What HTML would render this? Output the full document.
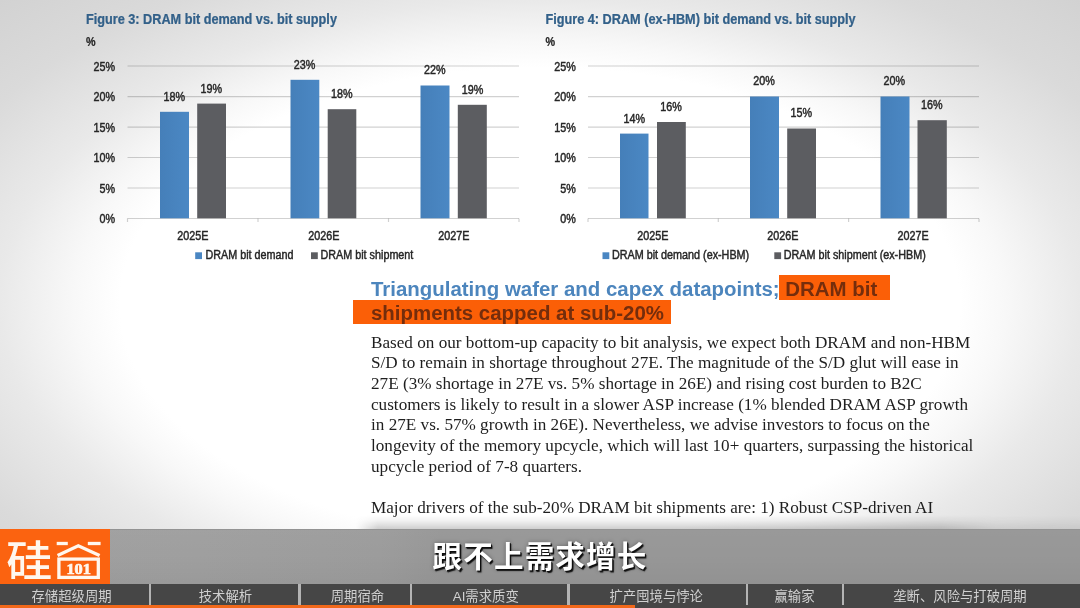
<!DOCTYPE html>
<html lang="zh-CN">
<head>
<meta charset="utf-8">
<title>硅谷101 - 存储超级周期</title>
<style>
html,body{margin:0;padding:0;}
body{width:1080px;height:608px;overflow:hidden;position:relative;background:#fff;font-family:"Liberation Sans","Noto Sans CJK SC",sans-serif;}
#bg{position:absolute;left:0;top:0;width:1080px;height:608px;
background:radial-gradient(ellipse farthest-corner at 50% 50%, #fff 0%, #fff 55%, #f8f8f8 61%, #e9e9e9 70.7%, #dadada 85%, #d2d2d2 100%);}
#docsh{position:absolute;left:356px;top:515px;width:724px;height:14px;background:linear-gradient(to bottom, rgba(0,0,0,0), rgba(0,0,0,.05) 40%, rgba(0,0,0,.19));-webkit-mask-image:linear-gradient(to right, transparent 0, #000 22px, #000 585px, rgba(0,0,0,.45) 640px, rgba(0,0,0,.35) 724px);mask-image:linear-gradient(to right, transparent 0, #000 22px, #000 585px, rgba(0,0,0,.45) 640px, rgba(0,0,0,.35) 724px);}
svg text{font-family:"Liberation Sans",sans-serif;}
#charts{position:absolute;left:0;top:0;filter:blur(.5px);}
.hl{position:absolute;background:#fb5f07;}
.hd{position:absolute;left:371.2px;font:bold 20px/24px "Liberation Sans",sans-serif;white-space:nowrap;transform-origin:0 0;transform:scaleX(1.0215);color:#4c85bd;filter:blur(.5px);}
.hd .dk{color:#742d0c;}
#bodytx{position:absolute;left:371px;top:332.6px;font:16.4px/20.66px "Liberation Serif",serif;color:#1e1e1e;transform-origin:0 0;transform:scaleX(1.0465);white-space:nowrap;filter:blur(.45px);}
.ln{height:20.66px;}
#band{position:absolute;left:0;top:529px;width:1080px;height:55px;background:linear-gradient(to bottom,rgba(255,255,255,.02) 0,rgba(0,0,0,0) 45%,rgba(0,0,0,.035) 100%),linear-gradient(to right,#a0a0a0 0,#9f9f9f 200px,#9c9c9c 380px,#979797 440px,#979797 100%);border-top:1px solid #939393;box-sizing:border-box;}
#logo{position:absolute;left:0;top:529px;width:110.4px;height:55px;background:#fb6310;}
#sub{position:absolute;left:0;top:529px;width:1080px;height:55px;text-align:center;font:bold 29.6px/55px "Liberation Sans","Noto Sans CJK SC",sans-serif;letter-spacing:1.1px;color:#fff;text-shadow:1.6px 1.6px 1px rgba(10,10,10,.9),1px 1px 0 rgba(20,20,20,.9),0 0 4px rgba(0,0,0,.35);}
#navbar{position:absolute;left:0;top:584px;width:1080px;height:21px;background:#464646;}
.nv{position:absolute;top:1.6px;height:21px;font:400 13.35px/21px "Liberation Sans","Noto Sans CJK SC",sans-serif;color:#d0d0d0;white-space:nowrap;filter:blur(.3px);}
.dv{position:absolute;top:0;width:2.4px;height:21.5px;background:#b4b4b4;}
#prog{position:absolute;left:0;top:605px;width:1080px;height:3px;background:#464646;}
#prog div{width:635px;height:3px;background:#f2681a;}
</style>
</head>
<body>
<div id="bg"></div>
<svg id="charts" width="1080" height="275" viewBox="0 0 1080 275">
<defs>
<linearGradient id="gb" x1="0" x2="1" y1="0" y2="0"><stop offset="0" stop-color="#457fb9"/><stop offset="1" stop-color="#4b88c4"/></linearGradient>
</defs>
<text transform="translate(86,23.8) scale(0.882,1)" text-anchor="start" font-size="14.4" font-weight="bold" fill="#326089" stroke="#326089" stroke-width="0.25">Figure 3: DRAM bit demand vs. bit supply</text>
<text transform="translate(86,45.9) scale(0.885,1)" text-anchor="start" font-size="12.2" font-weight="bold" fill="#262626" stroke="#262626" stroke-width="0.25">%</text>
<line x1="127.5" x2="519" y1="66" y2="66" stroke="#000" stroke-opacity=".18" stroke-width="1.2"/>
<text transform="translate(115.2,70.5) scale(0.885,1)" text-anchor="end" font-size="12.2" font-weight="normal" fill="#262626" stroke="#262626" stroke-width="0.45">25%</text>
<line x1="127.5" x2="519" y1="96.6" y2="96.6" stroke="#000" stroke-opacity=".18" stroke-width="1.2"/>
<text transform="translate(115.2,101.1) scale(0.885,1)" text-anchor="end" font-size="12.2" font-weight="normal" fill="#262626" stroke="#262626" stroke-width="0.45">20%</text>
<line x1="127.5" x2="519" y1="127.1" y2="127.1" stroke="#000" stroke-opacity=".18" stroke-width="1.2"/>
<text transform="translate(115.2,131.6) scale(0.885,1)" text-anchor="end" font-size="12.2" font-weight="normal" fill="#262626" stroke="#262626" stroke-width="0.45">15%</text>
<line x1="127.5" x2="519" y1="157.5" y2="157.5" stroke="#000" stroke-opacity=".18" stroke-width="1.2"/>
<text transform="translate(115.2,162.0) scale(0.885,1)" text-anchor="end" font-size="12.2" font-weight="normal" fill="#262626" stroke="#262626" stroke-width="0.45">10%</text>
<line x1="127.5" x2="519" y1="188" y2="188" stroke="#000" stroke-opacity=".18" stroke-width="1.2"/>
<text transform="translate(115.2,192.5) scale(0.885,1)" text-anchor="end" font-size="12.2" font-weight="normal" fill="#262626" stroke="#262626" stroke-width="0.45">5%</text>
<line x1="127.5" x2="519" y1="218.5" y2="218.5" stroke="#000" stroke-opacity=".18" stroke-width="1.2"/>
<text transform="translate(115.2,223.0) scale(0.885,1)" text-anchor="end" font-size="12.2" font-weight="normal" fill="#262626" stroke="#262626" stroke-width="0.45">0%</text>
<line x1="127.5" x2="127.5" y1="218.5" y2="222" stroke="#000" stroke-opacity=".18" stroke-width="1.2"/>
<line x1="258" x2="258" y1="218.5" y2="222" stroke="#000" stroke-opacity=".18" stroke-width="1.2"/>
<line x1="388.5" x2="388.5" y1="218.5" y2="222" stroke="#000" stroke-opacity=".18" stroke-width="1.2"/>
<line x1="519" x2="519" y1="218.5" y2="222" stroke="#000" stroke-opacity=".18" stroke-width="1.2"/>
<rect x="160" y="111.8" width="29.00" height="106.50" fill="url(#gb)"/>
<rect x="197.2" y="103.6" width="28.80" height="114.70" fill="#5c5d61"/>
<rect x="290.5" y="79.8" width="28.80" height="138.50" fill="url(#gb)"/>
<rect x="327.7" y="109.2" width="28.60" height="109.10" fill="#5c5d61"/>
<rect x="420.5" y="85.5" width="29.00" height="132.80" fill="url(#gb)"/>
<rect x="457.8" y="104.8" width="29.00" height="113.50" fill="#5c5d61"/>
<text transform="translate(174.2,101.3) scale(0.885,1)" text-anchor="middle" font-size="12.2" font-weight="normal" fill="#262626" stroke="#262626" stroke-width="0.45">18%</text>
<text transform="translate(211.4,93.1) scale(0.885,1)" text-anchor="middle" font-size="12.2" font-weight="normal" fill="#262626" stroke="#262626" stroke-width="0.45">19%</text>
<text transform="translate(304.6,69.3) scale(0.885,1)" text-anchor="middle" font-size="12.2" font-weight="normal" fill="#262626" stroke="#262626" stroke-width="0.45">23%</text>
<text transform="translate(341.8,98.3) scale(0.885,1)" text-anchor="middle" font-size="12.2" font-weight="normal" fill="#262626" stroke="#262626" stroke-width="0.45">18%</text>
<text transform="translate(434.8,74.3) scale(0.885,1)" text-anchor="middle" font-size="12.2" font-weight="normal" fill="#262626" stroke="#262626" stroke-width="0.45">22%</text>
<text transform="translate(472.5,93.8) scale(0.885,1)" text-anchor="middle" font-size="12.2" font-weight="normal" fill="#262626" stroke="#262626" stroke-width="0.45">19%</text>
<text transform="translate(192.8,239.6) scale(0.885,1)" text-anchor="middle" font-size="12.2" font-weight="normal" fill="#262626" stroke="#262626" stroke-width="0.45">2025E</text>
<text transform="translate(323.8,239.6) scale(0.885,1)" text-anchor="middle" font-size="12.2" font-weight="normal" fill="#262626" stroke="#262626" stroke-width="0.45">2026E</text>
<text transform="translate(453.8,239.6) scale(0.885,1)" text-anchor="middle" font-size="12.2" font-weight="normal" fill="#262626" stroke="#262626" stroke-width="0.45">2027E</text>
<rect x="195.2" y="252.3" width="6.8" height="6.8" fill="#4a86c2"/>
<text transform="translate(205.5,259.2) scale(0.885,1)" text-anchor="start" font-size="12.2" font-weight="normal" fill="#262626" stroke="#262626" stroke-width="0.45">DRAM bit demand</text>
<rect x="311" y="252.3" width="6.8" height="6.8" fill="#5c5d61"/>
<text transform="translate(320.5,259.2) scale(0.885,1)" text-anchor="start" font-size="12.2" font-weight="normal" fill="#262626" stroke="#262626" stroke-width="0.45">DRAM bit shipment</text>
<text transform="translate(545.5,23.8) scale(0.882,1)" text-anchor="start" font-size="14.4" font-weight="bold" fill="#326089" stroke="#326089" stroke-width="0.25">Figure 4: DRAM (ex-HBM) bit demand vs. bit supply</text>
<text transform="translate(545.5,45.9) scale(0.885,1)" text-anchor="start" font-size="12.2" font-weight="bold" fill="#262626" stroke="#262626" stroke-width="0.25">%</text>
<line x1="588" x2="979" y1="66" y2="66" stroke="#000" stroke-opacity=".18" stroke-width="1.2"/>
<text transform="translate(575.8,70.5) scale(0.885,1)" text-anchor="end" font-size="12.2" font-weight="normal" fill="#262626" stroke="#262626" stroke-width="0.45">25%</text>
<line x1="588" x2="979" y1="96.6" y2="96.6" stroke="#000" stroke-opacity=".18" stroke-width="1.2"/>
<text transform="translate(575.8,101.1) scale(0.885,1)" text-anchor="end" font-size="12.2" font-weight="normal" fill="#262626" stroke="#262626" stroke-width="0.45">20%</text>
<line x1="588" x2="979" y1="127.1" y2="127.1" stroke="#000" stroke-opacity=".18" stroke-width="1.2"/>
<text transform="translate(575.8,131.6) scale(0.885,1)" text-anchor="end" font-size="12.2" font-weight="normal" fill="#262626" stroke="#262626" stroke-width="0.45">15%</text>
<line x1="588" x2="979" y1="157.5" y2="157.5" stroke="#000" stroke-opacity=".18" stroke-width="1.2"/>
<text transform="translate(575.8,162.0) scale(0.885,1)" text-anchor="end" font-size="12.2" font-weight="normal" fill="#262626" stroke="#262626" stroke-width="0.45">10%</text>
<line x1="588" x2="979" y1="188" y2="188" stroke="#000" stroke-opacity=".18" stroke-width="1.2"/>
<text transform="translate(575.8,192.5) scale(0.885,1)" text-anchor="end" font-size="12.2" font-weight="normal" fill="#262626" stroke="#262626" stroke-width="0.45">5%</text>
<line x1="588" x2="979" y1="218.5" y2="218.5" stroke="#000" stroke-opacity=".18" stroke-width="1.2"/>
<text transform="translate(575.8,223.0) scale(0.885,1)" text-anchor="end" font-size="12.2" font-weight="normal" fill="#262626" stroke="#262626" stroke-width="0.45">0%</text>
<line x1="588" x2="588" y1="218.5" y2="222" stroke="#000" stroke-opacity=".18" stroke-width="1.2"/>
<line x1="718.3" x2="718.3" y1="218.5" y2="222" stroke="#000" stroke-opacity=".18" stroke-width="1.2"/>
<line x1="848.6" x2="848.6" y1="218.5" y2="222" stroke="#000" stroke-opacity=".18" stroke-width="1.2"/>
<line x1="979" x2="979" y1="218.5" y2="222" stroke="#000" stroke-opacity=".18" stroke-width="1.2"/>
<rect x="620" y="133.6" width="28.50" height="84.70" fill="url(#gb)"/>
<rect x="657" y="122" width="28.80" height="96.30" fill="#5c5d61"/>
<rect x="750" y="96.5" width="29.00" height="121.80" fill="url(#gb)"/>
<rect x="787.2" y="128.5" width="28.80" height="89.80" fill="#5c5d61"/>
<rect x="880.5" y="96.5" width="29.00" height="121.80" fill="url(#gb)"/>
<rect x="917.5" y="120.2" width="29.30" height="98.10" fill="#5c5d61"/>
<text transform="translate(634.2,123.1) scale(0.885,1)" text-anchor="middle" font-size="12.2" font-weight="normal" fill="#262626" stroke="#262626" stroke-width="0.45">14%</text>
<text transform="translate(671,111.1) scale(0.885,1)" text-anchor="middle" font-size="12.2" font-weight="normal" fill="#262626" stroke="#262626" stroke-width="0.45">16%</text>
<text transform="translate(764,85.1) scale(0.885,1)" text-anchor="middle" font-size="12.2" font-weight="normal" fill="#262626" stroke="#262626" stroke-width="0.45">20%</text>
<text transform="translate(801.2,116.8) scale(0.885,1)" text-anchor="middle" font-size="12.2" font-weight="normal" fill="#262626" stroke="#262626" stroke-width="0.45">15%</text>
<text transform="translate(894.2,85.1) scale(0.885,1)" text-anchor="middle" font-size="12.2" font-weight="normal" fill="#262626" stroke="#262626" stroke-width="0.45">20%</text>
<text transform="translate(931.8,108.8) scale(0.885,1)" text-anchor="middle" font-size="12.2" font-weight="normal" fill="#262626" stroke="#262626" stroke-width="0.45">16%</text>
<text transform="translate(652.8,239.6) scale(0.885,1)" text-anchor="middle" font-size="12.2" font-weight="normal" fill="#262626" stroke="#262626" stroke-width="0.45">2025E</text>
<text transform="translate(782.8,239.6) scale(0.885,1)" text-anchor="middle" font-size="12.2" font-weight="normal" fill="#262626" stroke="#262626" stroke-width="0.45">2026E</text>
<text transform="translate(913.2,239.6) scale(0.885,1)" text-anchor="middle" font-size="12.2" font-weight="normal" fill="#262626" stroke="#262626" stroke-width="0.45">2027E</text>
<rect x="602.5" y="252.3" width="6.8" height="6.8" fill="#4a86c2"/>
<text transform="translate(612,259.2) scale(0.885,1)" text-anchor="start" font-size="12.2" font-weight="normal" fill="#262626" stroke="#262626" stroke-width="0.45">DRAM bit demand (ex-HBM)</text>
<rect x="774.3" y="252.3" width="6.8" height="6.8" fill="#5c5d61"/>
<text transform="translate(783.8,259.2) scale(0.885,1)" text-anchor="start" font-size="12.2" font-weight="normal" fill="#262626" stroke="#262626" stroke-width="0.45">DRAM bit shipment (ex-HBM)</text>
</svg>
<div id="docsh"></div>
<div class="hl" style="left:778.8px;top:274.6px;width:110.8px;height:25.6px"></div>
<div class="hl" style="left:352.5px;top:299.9px;width:318.4px;height:24.5px"></div>
<div class="hd" style="top:277px">Triangulating wafer and capex datapoints;<span class="dk"> DRAM bit</span></div>
<div class="hd" style="top:301.1px"><span class="dk">shipments capped at sub-20%</span></div>
<div id="bodytx">
<div class="ln">Based on our bottom-up capacity to bit analysis, we expect both DRAM and non-HBM</div>
<div class="ln">S/D to remain in shortage throughout 27E. The magnitude of the S/D glut will ease in</div>
<div class="ln">27E (3% shortage in 27E vs. 5% shortage in 26E) and rising cost burden to B2C</div>
<div class="ln">customers is likely to result in a slower ASP increase (1% blended DRAM ASP growth</div>
<div class="ln">in 27E vs. 57% growth in 26E). Nevertheless, we advise investors to focus on the</div>
<div class="ln">longevity of the memory upcycle, which will last 10+ quarters, surpassing the historical</div>
<div class="ln">upcycle period of 7-8 quarters.</div>
<div class="ln">&nbsp;</div>
<div class="ln">Major drivers of the sub-20% DRAM bit shipments are: 1) Robust CSP-driven AI</div>
</div>
<div id="band"></div>
<div id="logo">
<svg width="110" height="55" viewBox="0 0 110 55" role="img" aria-label="硅谷101">
<title>硅谷101</title>
<text transform="translate(6.2,48) scale(1.06,1)" style="font-family:'Liberation Sans','Noto Sans CJK SC',sans-serif;font-size:43.5px;font-weight:500" fill="#fff7ee">硅</text>
<g fill="none" stroke="#fff7ee" stroke-width="3.3">
<line x1="56.7" y1="14.5" x2="67.8" y2="14.5"/><line x1="87.8" y1="14.5" x2="100.6" y2="14.5"/>
<polyline points="57.6,26.5 78.3,16.8 99.6,26.5" stroke-linejoin="miter"/>
<rect x="58.9" y="30.1" width="39.4" height="18.3"/>
</g>
<text transform="translate(78.7,44.9) scale(1.12,1)" text-anchor="middle" style="font-family:'Liberation Serif',serif;font-weight:bold;font-size:14.6px" fill="#fff7ee" stroke="#fff7ee" stroke-width=".7">101</text>
</svg>
</div>
<div id="sub">跟不上需求增长</div>
<div id="navbar">
<div class="nv" style="left:31.5px">存储超级周期</div>
<div class="nv" style="left:198.75px">技术解析</div>
<div class="nv" style="left:330.75px">周期宿命</div>
<div class="nv" style="left:452.75px">AI需求质变</div>
<div class="nv" style="left:609.5px">扩产囤境与悖论</div>
<div class="nv" style="left:774.5px">赢输家</div>
<div class="nv" style="left:893.25px">垄断、风险与打破周期</div>
<div class="dv" style="left:148.8px"></div>
<div class="dv" style="left:298.3px"></div>
<div class="dv" style="left:409.55px"></div>
<div class="dv" style="left:567.3px"></div>
<div class="dv" style="left:745.8px"></div>
<div class="dv" style="left:842.05px"></div>
</div>
<div id="prog"><div></div></div>
</body>
</html>
